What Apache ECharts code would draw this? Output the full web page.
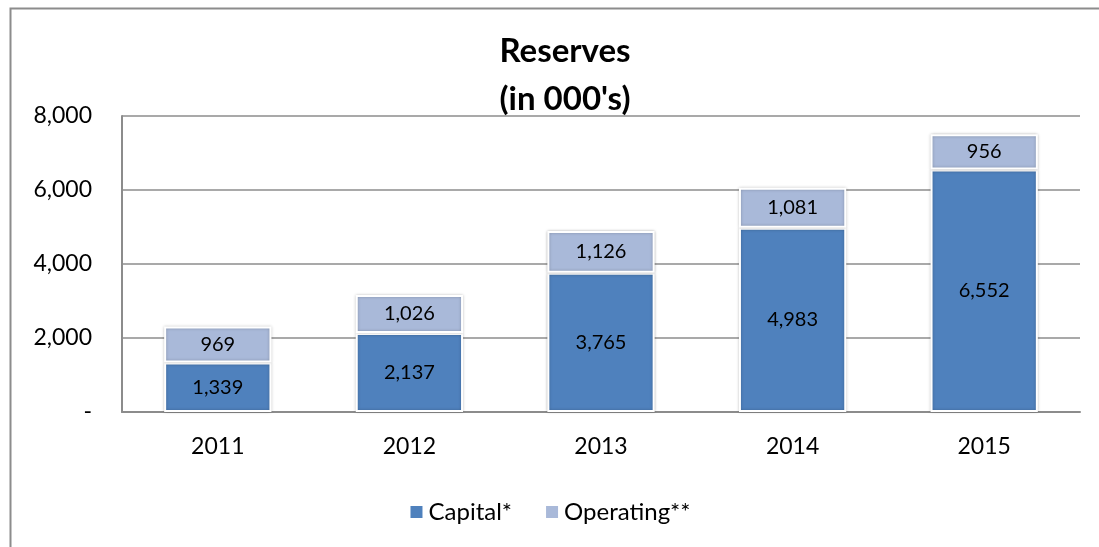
<!DOCTYPE html>
<html>
<head>
<meta charset="utf-8">
<title>Reserves</title>
<script src="https://cdn.jsdelivr.net/npm/echarts@6/dist/echarts.min.js"></script>
<style>
  html, body {margin: 0; padding: 0; background: #fff;}
  #chart {width: 1099px; height: 547px;}
</style>
</head>
<body>
<div id="chart"></div>
<script>
var years = ['2011', '2012', '2013', '2014', '2015'];
var capital = [1339, 2137, 3765, 4983, 6552];
var operating = [969, 1026, 1126, 1081, 956];
var yTicks = [0, 2000, 4000, 6000, 8000];

var font = 'Lato, "Open Sans", sans-serif';

function fmt(v) {
  if (v === 0) return '-';
  return v.toLocaleString('en-US');
}

var chart = echarts.init(document.getElementById('chart'));

chart.setOption({
  animation: false,
  textStyle: {fontFamily: font},
  graphic: [{
    type: 'rect',
    left: 8, top: 6,
    shape: {width: 1200, height: 700},
    style: {fill: 'none', stroke: '#8c8c8c', lineWidth: 2}
  }],
  title: {
    text: "Reserves\n(in 000's)",
    left: 560, top: 22,
    textAlign: 'center',
    textStyle: {fontFamily: font, fontSize: 33, fontWeight: 'bold', color: '#000', lineHeight: 48}
  },
  legend: {
    bottom: 18,
    left: 'center',
    itemWidth: 14, itemHeight: 14,
    itemGap: 32,
    icon: 'rect',
    textStyle: {fontFamily: font, fontSize: 24, color: '#000'},
    data: ['Capital*', 'Operating**']
  },
  grid: {left: 122, right: 19, top: 116, bottom: 135},
  xAxis: {
    type: 'category',
    data: years,
    axisLine: {lineStyle: {color: '#8c8c8c', width: 2}},
    axisTick: {show: false},
    axisLabel: {fontFamily: font, fontSize: 23, color: '#000', margin: 23}
  },
  yAxis: {
    type: 'value',
    min: yTicks[0], max: yTicks[yTicks.length - 1], interval: 2000,
    axisLine: {show: true, lineStyle: {color: '#8c8c8c', width: 2}},
    axisTick: {show: false},
    splitLine: {lineStyle: {color: '#8c8c8c', width: 1.5}},
    axisLabel: {fontFamily: font, fontSize: 23, color: '#000', margin: 30, formatter: fmt}
  },
  series: [
    {
      name: 'Capital*',
      type: 'bar',
      stack: 'total',
      data: capital,
      barWidth: '56%',
      itemStyle: {color: '#4f81bd', borderColor: '#fff', borderWidth: 2,
        shadowColor: 'rgba(0,0,0,0.25)', shadowBlur: 3},
      label: {show: true, position: 'inside', fontFamily: font, fontSize: 20, color: '#000',
        formatter: function (p) { return fmt(p.value); }}
    },
    {
      name: 'Operating**',
      type: 'bar',
      stack: 'total',
      data: operating,
      barWidth: '56%',
      itemStyle: {color: '#a9b9d9', borderColor: '#fff', borderWidth: 2,
        shadowColor: 'rgba(0,0,0,0.25)', shadowBlur: 3},
      label: {show: true, position: 'inside', fontFamily: font, fontSize: 20, color: '#000',
        formatter: function (p) { return fmt(p.value); }}
    }
  ]
});
window.onresize = chart.resize;
</script>
</body>
</html>
